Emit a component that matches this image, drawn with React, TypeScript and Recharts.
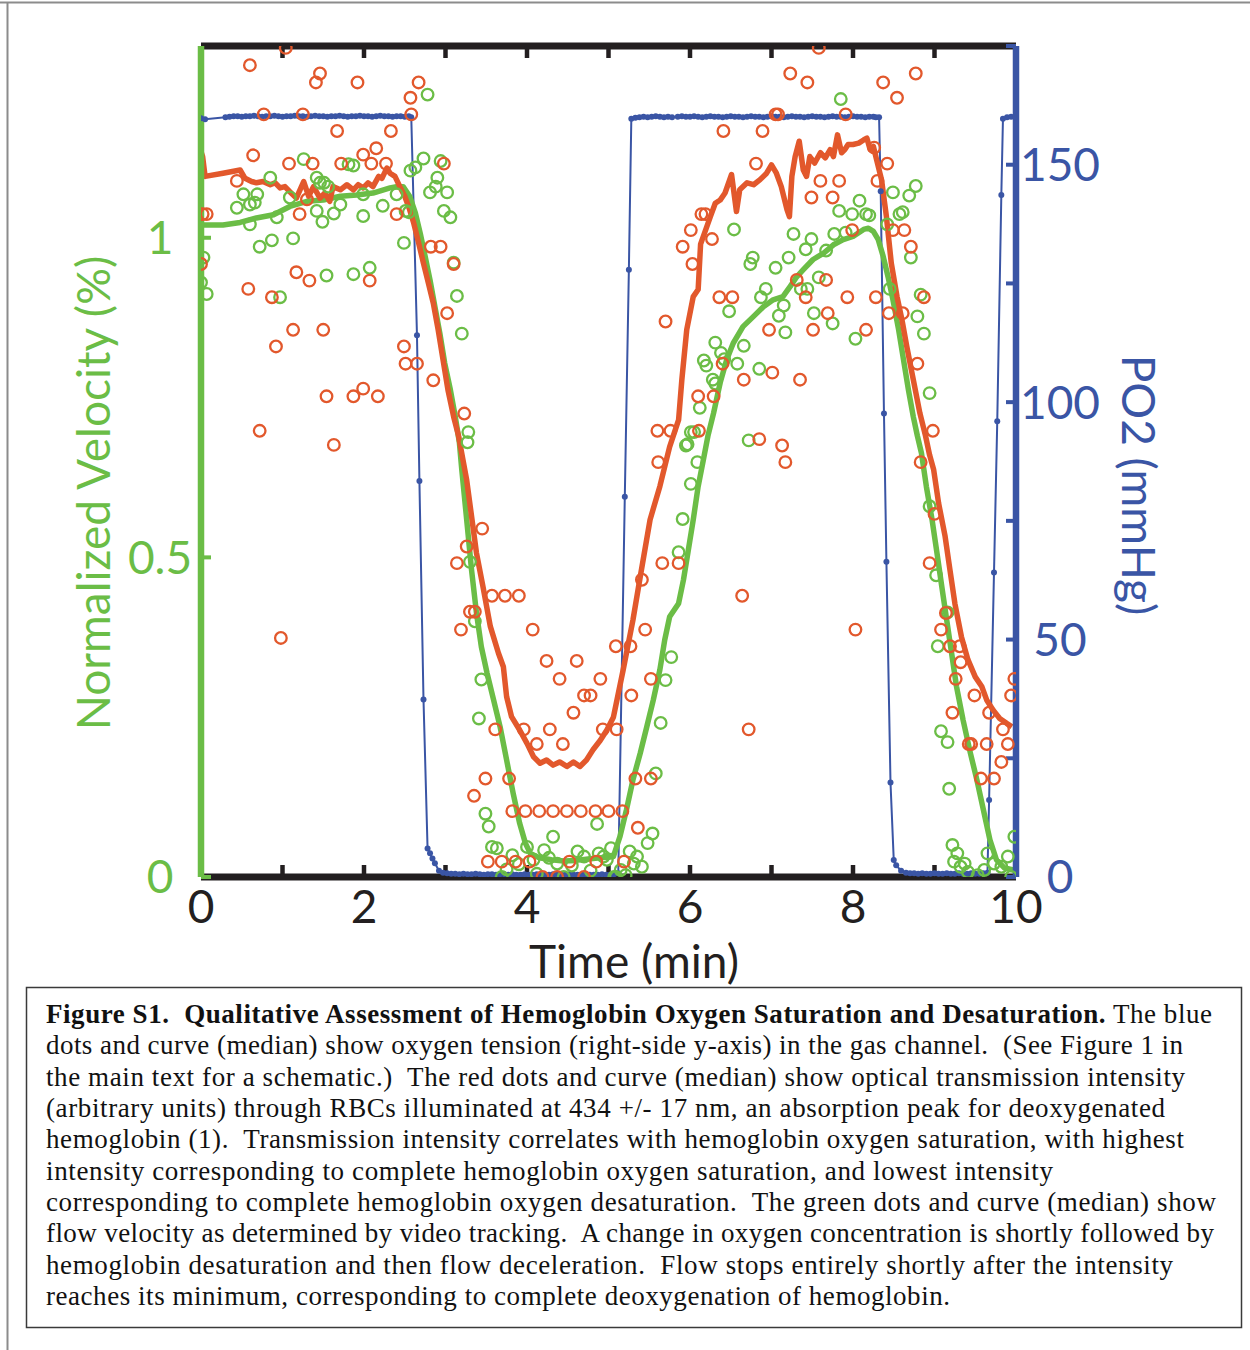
import React from 'react';
import { ComposedChart, XAxis, YAxis, Line, Scatter } from 'recharts';

// ---------------- data ----------------
const timeTicks = [0, 1, 2, 3, 4, 5, 6, 7, 8, 9, 10];
const timeLabels = [0, 2, 4, 6, 8, 10];
const velocityTicks = [0, 0.5, 1];
const velocityMax = 1.3;
const po2Ticks = [0, 25, 50, 75, 100, 125, 150, 175];
const po2Labels = [0, 50, 100, 150];

// green dots: normalized velocity [time (min), value]
const velocityDots: [number, number][] = [
  [0.0, 0.93], [0.03, 0.969], [0.07, 0.912],
  [0.44, 1.047], [0.52, 1.068], [0.6, 1.052], [0.6, 1.021], [0.66, 1.055], [0.69, 1.068], [0.72, 0.986],
  [0.85, 1.094], [0.87, 0.996], [0.93, 1.032], [0.97, 0.907],
  [1.09, 1.063], [1.13, 0.999], [1.26, 1.123], [1.42, 1.094], [1.42, 1.042], [1.46, 1.086], [1.49, 1.025],
  [1.51, 1.086], [1.54, 0.941], [1.56, 1.08], [1.63, 1.038], [1.71, 1.052], [1.81, 1.115], [1.87, 1.113],
  [1.87, 0.943], [1.99, 1.068], [1.99, 1.034],
  [2.07, 0.953], [2.23, 1.05], [2.4, 1.068], [2.49, 0.992], [2.51, 1.042], [2.55, 1.04], [2.57, 1.105],
  [2.63, 1.11], [2.73, 1.124], [2.78, 1.224], [2.81, 1.071], [2.88, 1.08], [2.9, 1.094], [2.94, 1.12],
  [2.98, 1.042], [3.02, 1.071], [3.06, 1.032], [3.1, 0.961], [3.14, 0.909], [3.2, 0.85], [3.27, 0.68], [3.28, 0.696],
  [3.3, 0.493], [3.36, 0.4], [3.41, 0.248], [3.44, 0.309], [3.49, 0.099], [3.53, 0.079], [3.57, 0.047],
  [3.63, 0.045], [3.69, 0.0], [3.75, 0.012], [3.82, 0.034], [3.9, 0.02], [4.0, 0.047], [4.08, 0.027],
  [4.12, 0.005], [4.21, 0.042], [4.27, 0.03], [4.32, 0.063], [4.37, 0.021], [4.45, 0.0], [4.55, 0.018],
  [4.62, 0.04], [4.7, 0.032], [4.78, 0.01], [4.86, 0.083], [4.88, 0.037], [4.94, 0.032], [4.98, 0.027],
  [5.03, 0.045], [5.07, 0.0], [5.09, 0.0], [5.15, 0.011], [5.21, 0.003], [5.26, 0.04], [5.31, 0.021],
  [5.35, 0.032], [5.41, 0.016], [5.48, 0.053], [5.54, 0.068],
  [5.58, 0.162], [5.64, 0.241], [5.7, 0.308], [5.77, 0.344], [5.86, 0.508], [5.91, 0.56], [5.95, 0.675],
  [5.97, 0.677], [6.01, 0.615], [6.01, 0.696], [6.05, 0.696], [6.09, 0.649], [6.12, 0.734], [6.17, 0.808],
  [6.2, 0.8], [6.28, 0.778], [6.31, 0.836], [6.31, 0.772], [6.38, 0.82], [6.42, 0.81], [6.48, 0.885],
  [6.54, 1.013], [6.58, 0.803], [6.66, 0.831], [6.72, 0.683],
  [6.74, 0.959], [6.77, 0.969], [6.85, 0.795], [6.87, 0.907], [6.93, 0.92], [7.05, 0.953], [7.09, 0.878],
  [7.15, 0.894], [7.17, 0.852], [7.21, 0.969], [7.27, 1.006], [7.36, 0.92], [7.42, 0.982], [7.44, 0.92],
  [7.49, 0.998], [7.52, 0.882], [7.58, 0.938], [7.67, 0.98], [7.75, 0.866], [7.77, 1.006], [7.83, 1.042],
  [7.85, 1.217], [7.91, 1.008], [7.99, 1.037], [8.03, 0.842], [8.08, 1.058], [8.16, 1.037], [8.2, 1.035],
  [8.42, 1.021], [8.45, 0.92], [8.49, 1.071], [8.57, 1.037], [8.61, 1.04], [8.69, 1.066], [8.71, 0.969],
  [8.77, 1.081], [8.79, 0.877], [8.83, 0.911], [8.87, 0.85], [8.94, 0.757],
  [8.94, 0.58], [9.02, 0.472], [9.04, 0.361], [9.08, 0.228], [9.16, 0.414], [9.16, 0.211], [9.18, 0.138],
  [9.22, 0.05], [9.24, 0.024], [9.28, 0.037], [9.32, 0.016], [9.37, 0.021], [9.41, 0.008], [9.53, 0.003],
  [9.61, 0.011], [9.65, 0.037], [9.73, 0.021], [9.82, 0.016], [9.9, 0.032], [9.94, 0.0], [9.98, 0.063],
];

// red dots: transmission intensity (a.u., left scale)
const intensityDots: [number, number][] = [
  [0.0, 0.959], [0.02, 1.037], [0.07, 1.037], [0.44, 1.089], [0.58, 0.92], [0.6, 1.27], [0.64, 1.129],
  [0.72, 0.698], [0.77, 1.193], [0.87, 0.907], [0.92, 0.83], [0.98, 0.374], [1.04, 1.297], [1.08, 1.116],
  [1.13, 0.856], [1.17, 0.946], [1.21, 1.037], [1.25, 1.193], [1.3, 1.06], [1.33, 0.933], [1.37, 1.116],
  [1.41, 1.243], [1.46, 1.257], [1.5, 0.856], [1.54, 0.752], [1.63, 0.676], [1.67, 1.167], [1.72, 1.116],
  [1.87, 0.752], [1.92, 1.243], [1.99, 1.13], [1.99, 0.764], [2.07, 0.933], [2.09, 1.116], [2.15, 1.14],
  [2.17, 0.752], [2.27, 1.116], [2.33, 1.167], [2.4, 1.037], [2.49, 0.83], [2.51, 0.803], [2.57, 1.219],
  [2.58, 1.193], [2.65, 0.803], [2.67, 1.243], [2.82, 0.986], [2.85, 0.777], [2.94, 0.986], [2.98, 1.116],
  [3.02, 0.882], [3.1, 0.959], [3.14, 0.491], [3.19, 0.387], [3.23, 0.725], [3.26, 0.517], [3.3, 0.415],
  [3.35, 0.127], [3.36, 0.415], [3.45, 0.545], [3.49, 0.154], [3.52, 0.024], [3.57, 0.44], [3.61, 0.231],
  [3.69, 0.024], [3.73, 0.44], [3.78, 0.154], [3.82, 0.103], [3.86, 0.024], [3.9, 0.44], [3.96, 0.231],
  [3.98, 0.103], [4.03, 0.024], [4.07, 0.387], [4.12, 0.208], [4.15, 0.103], [4.19, 0.0], [4.24, 0.338],
  [4.28, 0.231], [4.32, 0.103], [4.37, 0.0], [4.4, 0.31], [4.44, 0.208], [4.49, 0.103], [4.52, 0.024],
  [4.57, 0.257], [4.61, 0.338], [4.66, 0.103], [4.7, 0.284], [4.7, 0.0], [4.78, 0.284], [4.84, 0.103],
  [4.85, 0.024], [4.9, 0.31], [4.93, 0.231], [5.0, 0.103], [5.09, 0.361], [5.1, 0.231], [5.17, 0.103],
  [5.19, 0.024], [5.27, 0.361], [5.28, 0.284], [5.33, 0.154], [5.36, 0.077], [5.41, 0.465], [5.45, 0.387],
  [5.52, 0.31], [5.52, 0.154], [5.6, 0.698], [5.61, 0.649], [5.66, 0.491], [5.7, 0.869], [5.76, 0.698],
  [5.86, 0.491], [5.91, 0.986], [6.01, 1.012], [6.03, 0.959], [6.1, 0.752], [6.11, 0.698], [6.14, 1.037],
  [6.19, 1.037], [6.27, 0.998], [6.29, 0.752], [6.36, 0.907], [6.4, 0.803], [6.41, 1.167], [6.52, 0.907],
  [6.64, 0.44], [6.66, 0.778], [6.72, 0.231], [6.81, 1.116], [6.85, 0.685], [6.89, 1.167], [6.97, 0.856],
  [7.01, 0.789], [7.05, 1.193], [7.08, 1.193], [7.13, 0.675], [7.17, 0.649], [7.23, 1.257], [7.31, 0.934],
  [7.35, 0.778], [7.42, 0.907], [7.44, 1.243], [7.49, 1.063], [7.51, 0.856], [7.58, 1.297], [7.6, 1.089],
  [7.67, 0.934], [7.69, 0.882], [7.75, 1.063], [7.83, 1.089], [7.91, 1.193], [7.93, 0.907], [7.99, 1.012],
  [8.03, 0.387], [8.16, 0.856], [8.26, 1.141], [8.28, 0.907], [8.3, 1.089], [8.37, 1.243], [8.42, 1.116],
  [8.44, 0.882], [8.49, 1.012], [8.54, 1.219], [8.61, 0.882], [8.63, 1.012], [8.71, 0.986], [8.77, 1.257],
  [8.79, 0.803], [8.83, 0.649], [8.87, 0.907], [8.94, 0.491], [8.98, 0.698], [9.0, 0.568], [9.08, 0.387],
  [9.14, 0.413], [9.19, 0.361], [9.22, 0.257], [9.26, 0.31], [9.31, 0.361], [9.32, 0.336], [9.42, 0.208],
  [9.45, 0.208], [9.49, 0.284], [9.57, 0.154], [9.64, 0.208], [9.67, 0.257], [9.73, 0.154], [9.82, 0.18],
  [9.84, 0.231], [9.9, 0.208], [9.94, 0.284], [9.98, 0.31],
];

// green curve: median velocity
const velocityMedian: [number, number][] = [
  [0.0, 1.02], [0.27, 1.02], [0.48, 1.024], [0.68, 1.031], [0.89, 1.036], [1.09, 1.049], [1.3, 1.057],
  [1.5, 1.059], [1.71, 1.065], [1.91, 1.067], [2.11, 1.07], [2.32, 1.078], [2.4, 1.08], [2.48, 1.08],
  [2.56, 1.065], [2.63, 1.039], [2.69, 1.007], [2.75, 0.971], [2.81, 0.934], [2.87, 0.892], [2.93, 0.851],
  [2.99, 0.804], [3.06, 0.762], [3.12, 0.72], [3.17, 0.68], [3.2, 0.637], [3.26, 0.559], [3.32, 0.48],
  [3.38, 0.413], [3.44, 0.36], [3.51, 0.319], [3.59, 0.277], [3.67, 0.235], [3.75, 0.183], [3.83, 0.131],
  [3.91, 0.084], [3.98, 0.053], [4.04, 0.037], [4.15, 0.03], [4.3, 0.027], [4.45, 0.025], [4.6, 0.026],
  [4.75, 0.028], [4.9, 0.03], [5.0, 0.031], [5.06, 0.032], [5.14, 0.063], [5.22, 0.105], [5.3, 0.152],
  [5.39, 0.194], [5.47, 0.235], [5.55, 0.277], [5.63, 0.324], [5.69, 0.371], [5.75, 0.407], [5.86, 0.428],
  [5.92, 0.465], [5.98, 0.512], [6.04, 0.559], [6.1, 0.611], [6.16, 0.65], [6.22, 0.69], [6.29, 0.726],
  [6.37, 0.773], [6.45, 0.809], [6.53, 0.835], [6.65, 0.861], [6.78, 0.877], [6.9, 0.892], [7.02, 0.903],
  [7.14, 0.908], [7.23, 0.924], [7.31, 0.939], [7.39, 0.95], [7.51, 0.966], [7.64, 0.976], [7.76, 0.989],
  [7.88, 0.997], [8.0, 1.002], [8.13, 1.013], [8.19, 1.015], [8.25, 1.01], [8.31, 0.997], [8.37, 0.971],
  [8.43, 0.939], [8.49, 0.903], [8.56, 0.856], [8.62, 0.809], [8.68, 0.762], [8.74, 0.72], [8.79, 0.69],
  [8.84, 0.663], [8.9, 0.611], [8.97, 0.559], [9.03, 0.507], [9.09, 0.454], [9.15, 0.402], [9.21, 0.35],
  [9.27, 0.298], [9.35, 0.246], [9.44, 0.194], [9.52, 0.152], [9.6, 0.105], [9.68, 0.058], [9.76, 0.027],
  [9.86, 0.014], [9.97, 0.011],
];

// red curve: median intensity
const intensityMedian: [number, number][] = [
  [0.0, 1.135], [0.02, 1.127], [0.05, 1.096], [0.27, 1.101], [0.48, 1.106], [0.54, 1.093], [0.62, 1.088],
  [0.68, 1.086], [0.76, 1.088], [0.85, 1.083], [0.91, 1.086], [0.97, 1.078], [1.03, 1.08], [1.09, 1.072],
  [1.17, 1.062], [1.26, 1.088], [1.32, 1.065], [1.38, 1.08], [1.46, 1.062], [1.52, 1.07], [1.58, 1.057],
  [1.62, 1.08], [1.71, 1.075], [1.79, 1.083], [1.87, 1.075], [1.93, 1.083], [1.99, 1.078], [2.05, 1.086],
  [2.11, 1.08], [2.18, 1.096], [2.22, 1.093], [2.28, 1.109], [2.32, 1.101], [2.38, 1.096], [2.44, 1.08],
  [2.5, 1.065], [2.56, 1.044], [2.61, 1.023], [2.67, 0.992], [2.73, 0.96], [2.79, 0.929], [2.85, 0.898],
  [2.91, 0.856], [2.97, 0.809], [3.03, 0.762], [3.1, 0.72], [3.16, 0.69], [3.26, 0.621], [3.38, 0.507],
  [3.46, 0.454], [3.55, 0.392], [3.65, 0.35], [3.71, 0.329], [3.75, 0.282], [3.81, 0.251], [3.91, 0.23],
  [4.0, 0.209], [4.08, 0.188], [4.16, 0.178], [4.24, 0.183], [4.32, 0.175], [4.4, 0.18], [4.49, 0.173],
  [4.57, 0.18], [4.65, 0.173], [4.73, 0.183], [4.81, 0.199], [4.9, 0.214], [4.98, 0.23], [5.06, 0.25],
  [5.18, 0.324], [5.3, 0.402], [5.39, 0.47], [5.51, 0.559], [5.63, 0.611], [5.75, 0.673], [5.86, 0.715],
  [5.9, 0.778], [5.96, 0.856], [6.04, 0.908], [6.1, 0.919], [6.13, 0.99], [6.25, 1.033], [6.31, 1.054],
  [6.37, 1.059], [6.43, 1.07], [6.51, 1.099], [6.57, 1.041], [6.61, 1.075], [6.7, 1.086], [6.78, 1.083],
  [6.86, 1.091], [6.94, 1.101], [7.0, 1.114], [7.06, 1.101], [7.12, 1.08], [7.19, 1.044], [7.22, 1.033],
  [7.25, 1.096], [7.29, 1.127], [7.34, 1.151], [7.39, 1.106], [7.43, 1.096], [7.47, 1.127], [7.53, 1.117],
  [7.6, 1.133], [7.66, 1.125], [7.72, 1.138], [7.76, 1.127], [7.81, 1.161], [7.86, 1.133], [7.9, 1.138],
  [7.94, 1.146], [8.0, 1.146], [8.07, 1.148], [8.13, 1.153], [8.17, 1.156], [8.21, 1.138], [8.25, 1.143],
  [8.29, 1.122], [8.35, 1.091], [8.41, 1.033], [8.47, 0.96], [8.54, 0.908], [8.6, 0.872], [8.66, 0.83],
  [8.74, 0.778], [8.82, 0.726], [8.89, 0.69], [8.94, 0.66], [8.99, 0.637], [9.05, 0.585], [9.13, 0.533],
  [9.19, 0.48], [9.25, 0.428], [9.33, 0.376], [9.41, 0.34], [9.5, 0.313], [9.58, 0.298], [9.64, 0.277],
  [9.72, 0.261], [9.8, 0.248], [9.89, 0.24], [9.95, 0.235],
];

// blue dots and curve: PO2 (mmHg), right axis
const po2Samples: [number, number][] = [
  [0.0, 159.8], [0.05, 159.6], [0.3, 160.0], [0.35, 160.1], [0.4, 160.2], [0.45, 160.2], [0.5, 160.1],
  [0.55, 160.2], [0.6, 160.2], [0.65, 160.3], [0.7, 160.2], [0.75, 160.1], [0.8, 160.2], [0.85, 160.2],
  [0.9, 160.3], [0.95, 160.2], [1.0, 160.1], [1.05, 160.2], [1.1, 160.2], [1.15, 160.3], [1.2, 160.2],
  [1.25, 160.2], [1.3, 160.1], [1.35, 160.2], [1.4, 160.3], [1.45, 160.2], [1.5, 160.2], [1.55, 160.1],
  [1.6, 160.2], [1.65, 160.2], [1.7, 160.3], [1.75, 160.2], [1.8, 160.1], [1.85, 160.2], [1.9, 160.2],
  [1.95, 160.3], [2.0, 160.2], [2.05, 160.2], [2.1, 160.1], [2.15, 160.2], [2.2, 160.3], [2.25, 160.2],
  [2.3, 160.2], [2.35, 160.1], [2.4, 160.2], [2.45, 160.2], [2.5, 160.1], [2.55, 160.2],
  [2.58, 160.0], [2.65, 114.1], [2.68, 83.4], [2.73, 37.4], [2.78, 6.0], [2.81, 5.0], [2.84, 3.9],
  [2.87, 2.9], [2.92, 1.3], [2.97, 0.9],
  [3.02, 0.8], [3.07, 0.7], [3.12, 0.7], [3.17, 0.6], [3.22, 0.7], [3.27, 0.6], [3.32, 0.6], [3.37, 0.7],
  [3.42, 0.6], [3.47, 0.5], [3.52, 0.6], [3.57, 0.6], [3.62, 0.5], [3.67, 0.6], [3.72, 0.6], [3.77, 0.5],
  [3.82, 0.6], [3.87, 0.5], [3.92, 0.5], [3.97, 0.6], [4.02, 0.5], [4.07, 0.5], [4.12, 0.6], [4.17, 0.5],
  [4.22, 0.5], [4.27, 0.5], [4.32, 0.6], [4.37, 0.5], [4.42, 0.5], [4.47, 0.5], [4.52, 0.6], [4.57, 0.5],
  [4.62, 0.5], [4.67, 0.5], [4.72, 0.6], [4.77, 0.5], [4.82, 0.5], [4.87, 0.5], [4.92, 0.6], [4.97, 0.5],
  [5.02, 0.5], [5.07, 0.6], [5.12, 0.8],
  [5.2, 80.1], [5.25, 127.9], [5.28, 159.7],
  [5.33, 159.9], [5.38, 160.0], [5.43, 160.1], [5.48, 160.0], [5.53, 160.1], [5.58, 160.2], [5.63, 160.1],
  [5.68, 160.0], [5.73, 160.1], [5.78, 160.0], [5.85, 160.1], [5.9, 160.2], [5.95, 160.1], [6.0, 160.1],
  [6.05, 160.2], [6.1, 160.1], [6.15, 160.0], [6.2, 160.1], [6.25, 160.2], [6.3, 160.1], [6.35, 160.1],
  [6.4, 160.0], [6.45, 160.1], [6.5, 160.2], [6.55, 160.1], [6.6, 160.1], [6.65, 160.0], [6.7, 160.1],
  [6.75, 160.2], [6.8, 160.1], [6.85, 160.1], [6.9, 160.0], [6.95, 160.1], [7.0, 160.2], [7.05, 160.1],
  [7.1, 160.1], [7.15, 160.0], [7.2, 160.1], [7.25, 160.2], [7.3, 160.1], [7.35, 160.1], [7.4, 160.0],
  [7.45, 160.1], [7.5, 160.2], [7.55, 160.1], [7.6, 160.1], [7.65, 160.0], [7.7, 160.1], [7.75, 160.2],
  [7.8, 160.1], [7.85, 160.1], [7.9, 160.0], [7.95, 160.1], [8.0, 160.2], [8.05, 160.1], [8.1, 160.1],
  [8.15, 160.0], [8.2, 160.1], [8.25, 160.1], [8.28, 160.0],
  [8.32, 160.0], [8.34, 144.4], [8.38, 97.6], [8.41, 66.4], [8.46, 19.9], [8.5, 3.6], [8.53, 2.5],
  [8.59, 1.3], [8.65, 0.9],
  [8.7, 0.8], [8.75, 0.8], [8.8, 0.7], [8.85, 0.8], [8.9, 0.7], [8.95, 0.7], [9.0, 0.8], [9.05, 0.7],
  [9.1, 0.7], [9.15, 0.8], [9.2, 0.7], [9.25, 0.7], [9.3, 0.8], [9.35, 0.7], [9.4, 0.7], [9.45, 0.8],
  [9.5, 0.7], [9.55, 0.7], [9.6, 0.8], [9.65, 0.9],
  [9.67, 16.2], [9.73, 64.1], [9.77, 96.0], [9.82, 143.6], [9.84, 159.7], [9.89, 160.0], [9.94, 160.1],
  [9.99, 160.0],
];

const captionBold = 'Figure S1.  Qualitative Assessment of Hemoglobin Oxygen Saturation and Desaturation.';
const captionLines = [
  ' The blue',
  'dots and curve (median) show oxygen tension (right-side y-axis) in the gas channel.  (See Figure 1 in',
  'the main text for a schematic.)  The red dots and curve (median) show optical transmission intensity',
  '(arbitrary units) through RBCs illuminated at 434 +/- 17 nm, an absorption peak for deoxygenated',
  'hemoglobin (1).  Transmission intensity correlates with hemoglobin oxygen saturation, with highest',
  'intensity corresponding to complete hemoglobin oxygen saturation, and lowest intensity',
  'corresponding to complete hemoglobin oxygen desaturation.  The green dots and curve (median) show',
  'flow velocity as determined by video tracking.  A change in oxygen concentration is shortly followed by',
  'hemoglobin desaturation and then flow deceleration.  Flow stops entirely shortly after the intensity',
  'reaches its minimum, corresponding to complete deoxygenation of hemoglobin.',
];

// ---------------- styling / layout ----------------
const GREEN = '#6BBD46';
const RED = '#E2582C';
const BLUE = '#3A55A5';
const INK = '#231F20';
const FONT = "Lato, 'Open Sans', sans-serif";
const SERIF = "'Liberation Serif', 'DejaVu Serif', serif";
const PLOT_TOP = 46;
const captionRightEdges = [1212, 1183, 1185, 1165, 1184, 1053, 1216, 1214, 1173, 950];

const velDotRows = velocityDots.map(([t, v]) => ({ t, v }));
const intDotRows = intensityDots.map(([t, v]) => ({ t, v }));
const velMedRows = velocityMedian.map(([t, v]) => ({ t, v }));
const intMedRows = intensityMedian.map(([t, v]) => ({ t, v }));
const po2Rows = po2Samples.map(([t, p]) => ({ t, p }));
// inner tick positions along the top frame edge (top of the left scale)
const topTickRows = timeTicks.slice(1, -1).map((t) => ({ t, v: velocityMax }));

const TopTickMark = (props: any) => {
  const { cx, cy } = props;
  if (cx == null || cy == null) return <g />;
  return <line x1={cx} x2={cx} y1={cy} y2={cy + 12} stroke={INK} strokeWidth={4.5} />;
};

const BottomTick = (props: any) => {
  const { x, y, payload } = props;
  if (!timeLabels.includes(payload.value)) return <g />;
  return (
    <text x={x} y={y} dy="0.717em" textAnchor="middle" fill={INK} fontSize={46} fontFamily={FONT}>
      {payload.value}
    </text>
  );
};

const LeftTick = (props: any) => {
  const { x, y, payload } = props;
  return (
    <text x={x} y={y} dy="0.358em" textAnchor="middle" fill={GREEN} fontSize={46} fontFamily={FONT}>
      {payload.value}
    </text>
  );
};

const RightTick = (props: any) => {
  const { x, y, payload } = props;
  if (!po2Labels.includes(payload.value)) return <g />;
  return (
    <text x={x} y={y} dy="0.358em" textAnchor="middle" fill={BLUE} fontSize={46} fontFamily={FONT}>
      {payload.value}
    </text>
  );
};

const TimeTitle = () => (
  <text x={634} y={978} textAnchor="middle" fill={INK} fontSize={46} fontFamily={FONT}>
    Time (min)
  </text>
);

const VelocityTitle = () => (
  <text
    x={110}
    y={493}
    transform="rotate(-90 110 493)"
    textAnchor="middle"
    fill={GREEN}
    fontSize={46}
    fontFamily={FONT}
  >
    Normalized Velocity (%)
  </text>
);

const PO2Title = () => (
  <text
    x={1122}
    y={485}
    transform="rotate(90 1122 485)"
    textAnchor="middle"
    fill={BLUE}
    fontSize={46}
    fontFamily={FONT}
  >
    PO2 (mmHg)
  </text>
);

const RedRing = (props: any) => {
  const { cx, cy } = props;
  if (cx == null || cy == null) return <g />;
  return <circle cx={cx} cy={cy} r={5.8} fill="none" stroke={RED} strokeWidth={2.3} />;
};

const GreenRing = (props: any) => {
  const { cx, cy } = props;
  if (cx == null || cy == null) return <g />;
  return <circle cx={cx} cy={cy} r={5.8} fill="none" stroke={GREEN} strokeWidth={2.3} />;
};

export default function App() {
  return (
    <div style={{ position: 'absolute', left: 0, top: 0, width: 1250, height: 1350, background: '#fff' }}>
      <div style={{ position: 'absolute', left: 0, top: 0 }}>
        <ComposedChart width={1250} height={1000} margin={{ top: PLOT_TOP - 20, right: 0, bottom: 0, left: 0 }}>
          <XAxis
            xAxisId="top"
            orientation="top"
            type="number"
            dataKey="t"
            domain={[0, 10]}
            ticks={timeTicks}
            interval={0}
            height={20}
            allowDataOverflow
            axisLine={{ stroke: INK, strokeWidth: 7 }}
            tickLine={false}
            tick={false}
          />
          <XAxis
            xAxisId="bottom"
            orientation="bottom"
            type="number"
            dataKey="t"
            domain={[0, 10]}
            ticks={timeTicks}
            interval={0}
            height={123}
            allowDataOverflow
            axisLine={{ stroke: INK, strokeWidth: 7 }}
            tickLine={{ stroke: INK, strokeWidth: 4.5 }}
            tickSize={-12}
            tickMargin={25}
            tick={<BottomTick />}
            label={<TimeTitle />}
          />
          <YAxis
            yAxisId="left"
            orientation="left"
            type="number"
            domain={[0, velocityMax]}
            ticks={velocityTicks}
            interval={0}
            width={201}
            allowDataOverflow
            axisLine={{ stroke: GREEN, strokeWidth: 6.5 }}
            tickLine={{ stroke: GREEN, strokeWidth: 4 }}
            tickSize={-10}
            tickMargin={51}
            tick={<LeftTick />}
            label={<VelocityTitle />}
          />
          <YAxis
            yAxisId="right"
            orientation="right"
            type="number"
            domain={[0, 175]}
            ticks={po2Ticks}
            interval={0}
            width={234}
            allowDataOverflow
            axisLine={{ stroke: BLUE, strokeWidth: 6.5 }}
            tickLine={{ stroke: BLUE, strokeWidth: 4 }}
            tickSize={-10}
            tickMargin={54}
            tick={<RightTick />}
            label={<PO2Title />}
          />
          <Scatter
            data={topTickRows}
            xAxisId="top"
            yAxisId="left"
            dataKey="v"
            shape={<TopTickMark />}
            isAnimationActive={false}
          />
          <Line
            data={po2Rows}
            xAxisId="top"
            yAxisId="right"
            dataKey="p"
            type="linear"
            stroke={BLUE}
            strokeWidth={2}
            dot={{ r: 3, fill: BLUE, stroke: BLUE, strokeWidth: 0 }}
            activeDot={false}
            isAnimationActive={false}
          />
          <Scatter
            data={velDotRows}
            xAxisId="bottom"
            yAxisId="left"
            dataKey="v"
            shape={<GreenRing />}
            isAnimationActive={false}
          />
          <Scatter
            data={intDotRows}
            xAxisId="bottom"
            yAxisId="left"
            dataKey="v"
            shape={<RedRing />}
            isAnimationActive={false}
          />
          <Line
            data={velMedRows}
            xAxisId="bottom"
            yAxisId="left"
            dataKey="v"
            type="linear"
            stroke={GREEN}
            strokeWidth={5.5}
            strokeLinejoin="round"
            dot={false}
            activeDot={false}
            isAnimationActive={false}
          />
          <Line
            data={intMedRows}
            xAxisId="bottom"
            yAxisId="left"
            dataKey="v"
            type="linear"
            stroke={RED}
            strokeWidth={5.5}
            strokeLinejoin="round"
            dot={false}
            activeDot={false}
            isAnimationActive={false}
          />
        </ComposedChart>
      </div>
      <svg
        width={1250}
        height={1350}
        style={{ position: 'absolute', left: 0, top: 0, pointerEvents: 'none' }}
      >
        <line x1={0} y1={2.5} x2={1250} y2={2.5} stroke="#8c8c8c" strokeWidth={2} />
        <line x1={7.5} y1={2.5} x2={7.5} y2={1350} stroke="#8c8c8c" strokeWidth={2} />
        <rect x={26.5} y={987.5} width={1215} height={340} fill="none" stroke="#3a3a3a" strokeWidth={1.5} />
        {captionLines.map((line, i) => (
          <text
            key={i}
            x={46}
            y={1023 + i * 31.35}
            fontFamily={SERIF}
            fontSize={27}
            fill="#111"
            textLength={captionRightEdges[i] - 46}
            lengthAdjust="spacing"
            style={{ whiteSpace: 'pre' }}
          >
            {i === 0 ? <tspan fontWeight="bold">{captionBold}</tspan> : null}
            <tspan>{line}</tspan>
          </text>
        ))}
      </svg>
    </div>
  );
}
